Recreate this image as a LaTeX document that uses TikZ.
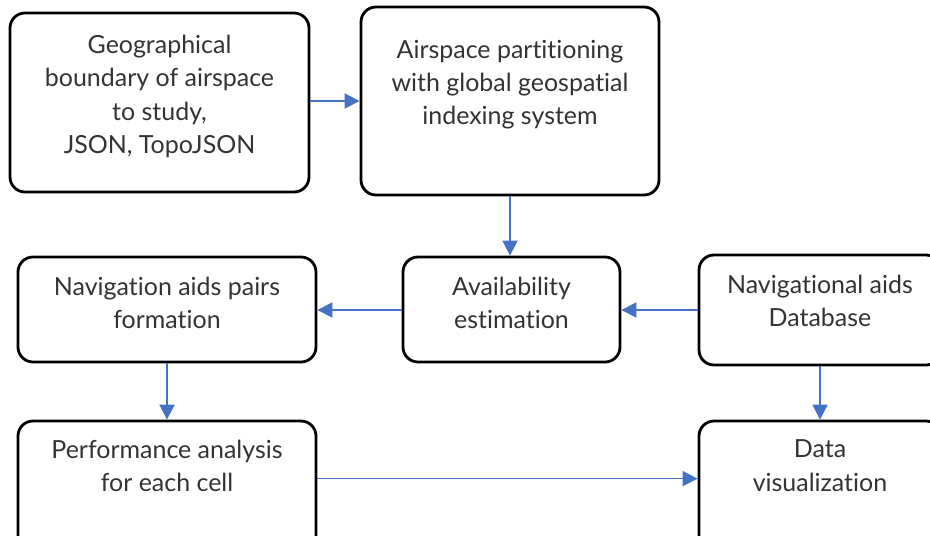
\documentclass[tikz,border=0pt]{standalone}
\usepackage{fontspec}
\setmainfont{Lato}[Ligatures=NoCommon]
\usetikzlibrary{arrows.meta,calc}
\definecolor{flowblue}{HTML}{4472C4}
\tikzset{
	stage/.style={draw=black, line width=1.6pt, rounded corners=0.3cm, inner sep=0pt},
	stagetext/.style={anchor=north, inner sep=0pt, align=center, text=black!80, font=\fontsize{14.2}{19}\selectfont},
	flow/.style={draw=flowblue, line width=1pt, -{Triangle[length=0.3cm,width=0.3cm]}}
}

\begin{document}
\begin{tikzpicture}
			%%%%% START %%%%%
			\useasboundingbox (0,0) rectangle (18.6,-10.7);
			\clip (0,0) rectangle (18.6,-10.7);
			
			% top row
			\node[stage, minimum width=5.98cm, minimum height=3.58cm] (geo) at (3.19,-2.05) {};
			\node[stagetext] (geotext) at ([yshift=-0.46cm]geo.north) {Geographical\\boundary of airspace\\to study,\\JSON, TopoJSON};
			
			\node[stage, minimum width=5.96cm, minimum height=3.76cm] (part) at (10.2,-2.02) {};
			\node[stagetext] (parttext) at ([yshift=-0.68cm]part.north) {Airspace partitioning\\with global geospatial\\indexing system};
			
			% middle row
			\node[stage, minimum width=5.96cm, minimum height=2.1cm] (pairs) at (3.34,-6.19) {};
			\node[stagetext] (pairstext) at ([yshift=-0.42cm]pairs.north) {Navigation aids pairs\\formation};
			
			\node[stage, minimum width=4.34cm, minimum height=2.1cm] (avail) at (10.23,-6.19) {};
			\node[stagetext] (availtext) at ([yshift=-0.42cm]avail.north) {Availability\\estimation};
			
			\node[stage, minimum width=4.84cm, minimum height=2.2cm] (navdb) at (16.4,-6.2) {};
			\node[stagetext] (navdbtext) at ([yshift=-0.42cm]navdb.north) {Navigational aids\\Database};
			
			% bottom row (runs off the page)
			\node[stage, minimum width=5.96cm, minimum height=3.58cm] (perf) at (3.34,-10.21) {};
			\node[stagetext] (perftext) at ([yshift=-0.4cm]perf.north) {Performance analysis\\for each cell};
			
			\node[stage, minimum width=4.84cm, minimum height=3.58cm] (vis) at (16.4,-10.21) {};
			\node[stagetext] (vistext) at ([yshift=-0.4cm]vis.north) {Data\\visualization};
			
			% connectors
			\draw[flow] (geo.east |- 0,-2.02) -- (part.west |- 0,-2.02);
			\draw[flow] (part.south) -- (part.south |- avail.north);
			\draw[flow] (avail.west |- 0,-6.2) -- (pairs.east |- 0,-6.2);
			\draw[flow] (navdb.west) -- (navdb.west -| avail.east);
			\draw[flow] (pairs.south) -- (pairs.south |- perf.north);
			\draw[flow] (navdb.south) -- (navdb.south |- vis.north);
			\draw[flow] ([yshift=-1.18cm]perf.north east) -- ([yshift=-1.18cm]vis.north west);
			
			%%%%% END %%%%%
		\end{tikzpicture}
\end{document}
